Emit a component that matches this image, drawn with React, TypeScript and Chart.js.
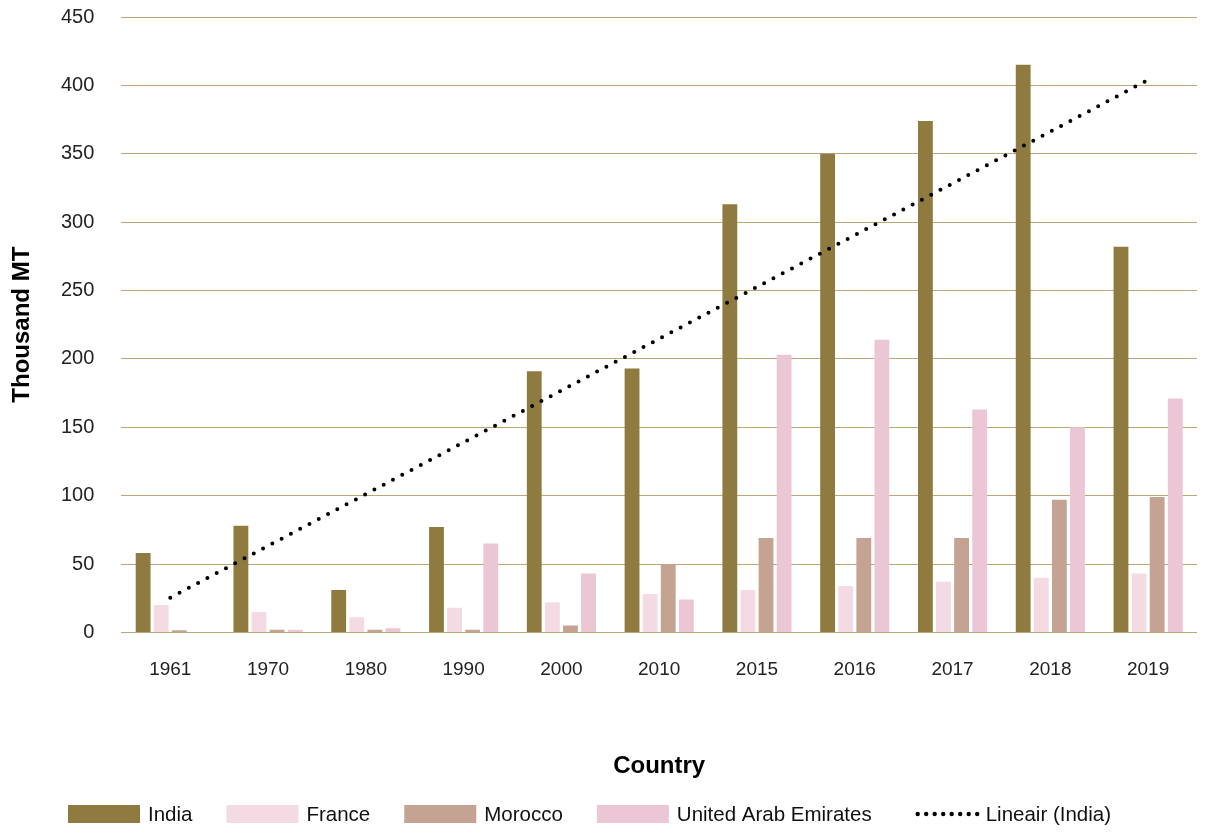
import React, { useEffect, useRef } from 'react';
import { Chart, registerables } from 'chart.js';
Chart.register(...registerables);

const years = ['1961', '1970', '1980', '1990', '2000', '2010', '2015', '2016', '2017', '2018', '2019'];
const india = [58, 78, 31, 77, 191, 193, 313, 350, 374, 415, 282];
const france = [20, 15, 11, 18, 22, 28, 31, 34, 37, 40, 43];
const morocco = [1.5, 2, 2, 2, 5, 50, 69, 69, 69, 97, 99];
const uae = [0, 2, 3, 65, 43, 24, 203, 214, 163, 150, 171];
const seriesNames = ['India', 'France', 'Morocco', 'United Arab Emirates', 'Lineair (India)'];
const seriesColors = ['#8f7b3f', '#f4dae3', '#c4a393', '#ebc6d5', '#000000'];
const yTicks = [0, 50, 100, 150, 200, 250, 300, 350, 400, 450];

// least-squares linear trend of the India series (Excel "Lineair" trendline)
function linearTrend(values: number[]): number[] {
  const n = values.length;
  const xs = values.map((_, i) => i + 1);
  const mx = xs.reduce((a, b) => a + b, 0) / n;
  const my = values.reduce((a, b) => a + b, 0) / n;
  let sxy = 0, sxx = 0;
  xs.forEach((x, i) => { sxy += (x - mx) * (values[i] - my); sxx += (x - mx) * (x - mx); });
  const slope = sxy / sxx;
  return xs.map((x) => my + slope * (x - mx));
}

const FONT = "'Liberation Sans', Arial, Helvetica, sans-serif";

const customLegend = {
  id: 'customLegend',
  afterDraw(chart: any) {
    const ctx = chart.ctx;
    ctx.save();
    ctx.font = `20.5px ${FONT}`;
    ctx.textBaseline = 'middle';
    let x = 68;
    const yc = 814;
    seriesNames.forEach((name, i) => {
      if (i < 4) {
        ctx.fillStyle = seriesColors[i];
        ctx.fillRect(x, yc - 9, 72, 18);
      } else {
        ctx.fillStyle = '#000';
        for (let k = 0; k < 8; k++) {
          ctx.beginPath();
          ctx.arc(x + 12 + k * 8.5, yc, 2.2, 0, Math.PI * 2);
          ctx.fill();
        }
      }
      ctx.fillStyle = '#111';
      ctx.fillText(name, x + 80, yc + 1);
      x += 80 + ctx.measureText(name).width + 34;
    });
    ctx.restore();
  },
};

export default function App() {
  const ref = useRef<HTMLCanvasElement>(null);
  useEffect(() => {
    document.body.style.margin = '0';
    const trend = linearTrend(india);
    const chart = new Chart(ref.current!, {
      type: 'bar',
      data: {
        labels: years,
        datasets: [
          { label: seriesNames[0], data: india, backgroundColor: seriesColors[0], order: 2 },
          { label: seriesNames[1], data: france, backgroundColor: seriesColors[1], order: 2 },
          { label: seriesNames[2], data: morocco, backgroundColor: seriesColors[2], order: 2 },
          { label: seriesNames[3], data: uae, backgroundColor: seriesColors[3], order: 2 },
          {
            type: 'line',
            label: seriesNames[4],
            data: trend,
            borderColor: '#000',
            borderWidth: 4,
            borderDash: [0, 10.5],
            borderCapStyle: 'round',
            pointRadius: 0,
            fill: false,
            order: 0,
          } as any,
        ],
      },
      options: {
        responsive: false,
        maintainAspectRatio: false,
        animation: false,
        datasets: { bar: { categoryPercentage: 0.74, barPercentage: 0.82 } },
        layout: { padding: { top: 17, right: 12, bottom: 40, left: 0 } },
        plugins: {
          legend: { display: false },
          tooltip: { enabled: false },
        },
        scales: {
          x: {
            grid: { display: false, drawTicks: false },
            border: { display: false },
            ticks: { color: '#222', font: { family: FONT, size: 19 }, padding: 26, maxRotation: 0 },
            title: {
              display: true,
              text: 'Country',
              color: '#000',
              font: { family: FONT, size: 24, weight: 'bold' },
              padding: { top: 45, bottom: 12 },
            },
          },
          y: {
            min: 0,
            max: 450,
            afterBuildTicks: (axis: any) => { axis.ticks = yTicks.map((v) => ({ value: v })); },
            afterFit: (axis: any) => { axis.paddingTop = 12; axis.paddingBottom = 12; },
            grid: { color: '#bba678', lineWidth: 1, drawTicks: false },
            border: { display: false },
            ticks: { color: '#222', font: { family: FONT, size: 20 }, padding: 27 },
            title: {
              display: true,
              text: 'Thousand MT',
              color: '#000',
              font: { family: FONT, size: 24, weight: 'bold', lineHeight: 1 },
              padding: { top: 10, bottom: 0 },
            },
          },
        },
      },
      plugins: [customLegend],
    });
    return () => chart.destroy();
  }, []);
  return (
    <div style={{ width: 1209, height: 833 }}>
      <canvas ref={ref} width={1209} height={833} />
    </div>
  );
}
